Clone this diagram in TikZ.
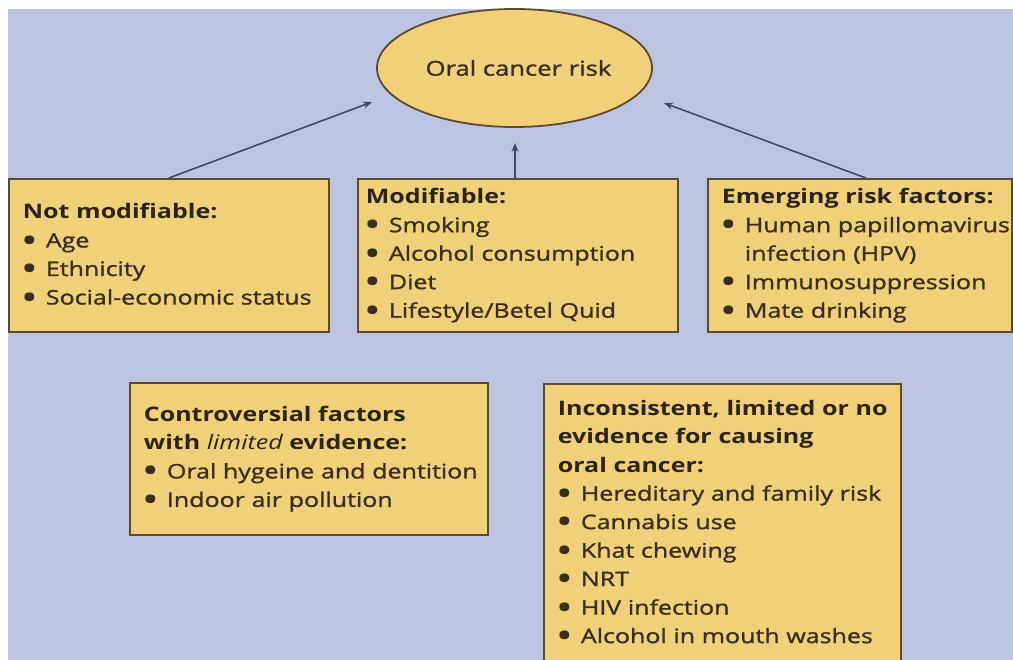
\documentclass[tikz,border=0pt]{standalone}
\usepackage{fontspec}
\setmainfont{Open Sans}[FakeStretch=1.25, UprightFeatures={FakeBold=1.3}]
\usetikzlibrary{shapes.geometric,arrows.meta,calc}
\definecolor{bgc}{HTML}{BCC4E1}
\definecolor{boxfill}{HTML}{F1D07A}
\definecolor{boxline}{HTML}{5B4B2E}
\definecolor{txt}{HTML}{3A2F1E}
\definecolor{hdtxt}{HTML}{2C2416}
\definecolor{arrowc}{HTML}{3D4560}
\newcommand{\itm}[1]{\mbox{\makebox[23pt][l]{\raisebox{-2.6pt}{\scalebox{1.4}{\textbf{\textbullet}}}}#1}}
\newcommand{\cnt}[1]{\mbox{\hspace*{23pt}#1}}
\newcommand{\hd}[1]{\mbox{\color{hdtxt}\textbf{#1}}}
\begin{document}
\begin{tikzpicture}[x=1pt,y=-1pt,
  fbox/.style={draw=boxline, line width=1.8pt, fill=boxfill, anchor=north west,
    align=left, inner xsep=14pt, inner ysep=0pt, text=txt,
    font=\fontsize{20}{28.5}\selectfont},
  conn/.style={draw=arrowc, line width=1.5pt, -{Stealth[length=9pt,width=7pt]}}]
\useasboundingbox (0,0) rectangle (1013,660);
\clip (0,0) rectangle (1013,660);
\fill[white] (0,0) rectangle (1013,660);
\fill[bgc] (8,9) rectangle (1013,660);

\node[ellipse, draw=boxline, line width=1.8pt, fill=boxfill, minimum width=275pt,
  minimum height=118pt, inner sep=0pt, text=txt, font=\fontsize{20.5}{24}\selectfont]
  (risk) at (514.5,68) {\hspace*{8pt}Oral cancer risk};

\node[fbox, text width=292pt, minimum width=320pt, minimum height=153pt] (e1) at (8,178)
  {\hd{Not modifiable:}\\ \itm{Age}\\ \itm{Ethnicity}\\ \itm{Social-economic status}};
\node[fbox, inner xsep=8pt, text width=304pt, minimum width=320pt, minimum height=153pt] (e2) at (357,178)
  {\hd{Modifiable:}\\ \itm{Smoking}\\ \itm{Alcohol consumption}\\ \itm{Diet}\\ \itm{Lifestyle/Betel Quid}};
\node[fbox, text width=276pt, minimum width=304pt, minimum height=153pt] (e3) at (707,178)
  {\hd{Emerging risk factors:}\\ \itm{Human papillomavirus}\\ \cnt{infection (HPV)}\\ \itm{Immunosuppression}\\ \itm{Mate drinking}};
\node[fbox, text width=330pt, minimum width=358pt, minimum height=152pt] (e4) at (129,382)
  {\hd{Controversial factors}\\ \hd{with {\mdseries\itshape limited} evidence:}\\ \itm{Oral hygeine and dentition}\\ \itm{Indoor air pollution}};
\node[fbox, inner ysep=16pt, text width=329pt, minimum width=357pt] (e5) at (543,383)
  {\hd{Inconsistent, limited or no}\\ \hd{evidence for causing}\\ \hd{oral cancer:}\\ \itm{Hereditary and family risk}\\ \itm{Cannabis use}\\ \itm{Khat chewing}\\ \itm{NRT}\\ \itm{HIV infection}\\ \itm{Alcohol in mouth washes}\\ \rule{0pt}{40pt}};

\coordinate (tipL) at (372,102);
\coordinate (tipM) at (515,143);
\coordinate (tipR) at (664,103);
\draw[conn] (e1.north) -- (tipL);
\draw[conn] (tipM |- e2.north) -- (tipM);
\draw[conn] ([xshift=6pt]e3.north) -- (tipR);
\end{tikzpicture}
\end{document}
